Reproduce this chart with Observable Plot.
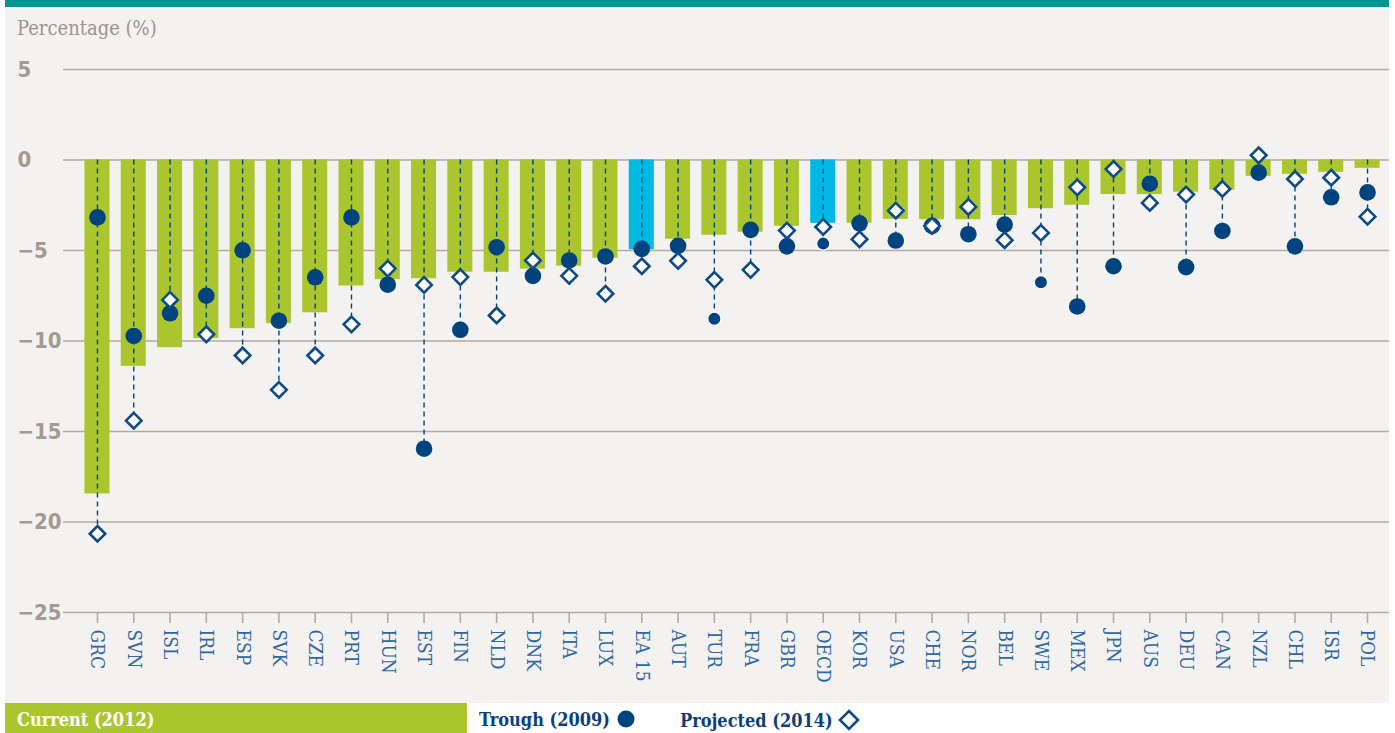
<!DOCTYPE html>
<html>
<head>
<meta charset="utf-8">
<script src="https://cdn.jsdelivr.net/npm/d3@7"></script>
<script src="https://cdn.jsdelivr.net/npm/@observablehq/plot@0.6"></script>
<style>
  body { margin: 0; background: #ffffff; width: 1395px; height: 733px; overflow: hidden; position: relative; }
  #teal { position: absolute; left: 5px; top: 0; width: 1384px; height: 7px; background: #00968f; }
  #panel { position: absolute; left: 5px; top: 8px; width: 1384px; height: 695px; background: #f4f2f0; }
  #ylabel { position: absolute; left: 17px; top: 16px; font-family: "DejaVu Serif Condensed", "DejaVu Serif", serif; font-size: 20px; color: #9d938a; }
  #chart { position: absolute; left: 0; top: 40px; }
  #legend-current { position: absolute; left: 5px; top: 703px; width: 462px; height: 30px; background: #abc52f; }
  .leg { position: absolute; top: 709px; font-family: "DejaVu Serif Condensed", "DejaVu Serif", serif; font-weight: bold; font-size: 18px; white-space: nowrap; }
</style>
</head>
<body>
<div id="teal"></div>
<div id="panel"></div>
<div id="ylabel">Percentage (%)</div>
<div id="chart"></div>
<div id="legend-current"></div>
<div class="leg" style="left:17px; color:#ffffff;">Current (2012)</div>
<div class="leg" style="left:479px; color:#0d3f7a;">Trough (2009) <svg width="20" height="20" style="vertical-align:-3px"><circle cx="10" cy="10" r="8.5" fill="#00437e"/></svg></div>
<div class="leg" style="left:680px; color:#0d3f7a;">Projected (2014) <svg width="22" height="22" style="vertical-align:-4px"><path d="M11,2 L20,11 L11,20 L2,11 Z" fill="#fff" stroke="#0d4a86" stroke-width="2.6"/></svg></div>
<script>
const countries = ["GRC","SVN","ISL","IRL","ESP","SVK","CZE","PRT","HUN","EST","FIN","NLD","DNK","ITA","LUX","EA 15","AUT","TUR","FRA","GBR","OECD","KOR","USA","CHE","NOR","BEL","SWE","MEX","JPN","AUS","DEU","CAN","NZL","CHL","ISR","POL"];
const current2012 = [-18.45,-11.4,-10.37,-9.87,-9.32,-9.04,-8.44,-6.96,-6.61,-6.56,-6.2,-6.2,-6.03,-5.87,-5.43,-4.96,-4.38,-4.16,-3.99,-3.66,-3.5,-3.5,-3.28,-3.3,-3.3,-3.07,-2.69,-2.5,-1.91,-1.91,-1.78,-1.67,-0.9,-0.79,-0.68,-0.46];
const trough2009 = [-3.17,-9.72,-8.47,-7.5,-4.99,-8.88,-6.48,-3.17,-6.89,-15.95,-9.38,-4.82,-6.4,-5.55,-5.33,-4.91,-4.74,-8.77,-3.86,-4.77,-4.62,-3.5,-4.45,-3.64,-4.1,-3.57,-6.75,-8.09,-5.87,-1.31,-5.92,-3.92,-0.7,-4.77,-2.06,-1.79];
const projected2014 = [-20.65,-14.4,-7.73,-9.63,-10.8,-12.7,-10.8,-9.08,-6.0,-6.9,-6.47,-8.59,-5.55,-6.4,-7.39,-5.87,-5.57,-6.62,-6.07,-3.9,-3.7,-4.38,-2.8,-3.64,-2.59,-4.43,-4.03,-1.51,-0.5,-2.37,-1.91,-1.6,0.26,-1.05,-0.98,-3.13];
const aggregates = ["EA 15","OECD"];
const yTicks = [5,0,-5,-10,-15,-20,-25];

const rows = countries.map((c, i) => ({
  country: c,
  current: current2012[i],
  trough: trough2009[i],
  projected: projected2014[i],
  low: Math.min(trough2009[i], projected2014[i], 0)
}));

const smallDots = new Set(["TUR","OECD","SWE"]);
const navy = "#00437e";
const fmt = d => d < 0 ? "\u2212" + Math.abs(d) : String(d);

const chart = Plot.plot({
  width: 1395,
  height: 660,
  marginTop: 29,
  marginBottom: 88,
  marginLeft: 63,
  marginRight: 6,
  style: { background: "transparent", overflow: "visible" },
  x: { domain: countries, range: [73.2, 1390.8], padding: 0.31, round: false, label: null },
  y: { domain: [-25, 5], label: null, axis: null },
  marks: [
    Plot.ruleY(yTicks, { stroke: "#b3aaa1", strokeWidth: 1.6 }),
    Plot.text(yTicks, { y: d => d, text: fmt, frameAnchor: "left", dx: -46, textAnchor: "start",
      fontSize: 22, fontWeight: "bold", fill: "#a39a91", fontFamily: "DejaVu Sans Condensed, DejaVu Sans, sans-serif" }),
    Plot.barY(rows, { x: "country", y: "current",
      fill: d => aggregates.includes(d.country) ? "#00b9e3" : "#abc52f" }),
    Plot.ruleX(rows, { x: "country", y1: 0, y2: "low", stroke: navy, strokeWidth: 1.4, strokeDasharray: "5,4" }),
    Plot.dot(rows.filter(d => !smallDots.has(d.country)), { x: "country", y: "trough", r: 8.3, fill: navy }),
    Plot.dot(rows.filter(d => smallDots.has(d.country)), { x: "country", y: "trough", r: 6.6, fill: navy, stroke: "#ffffff", strokeWidth: 1.2 }),
    Plot.dot(rows, { x: "country", y: "projected", symbol: "diamond2", r: 7, fill: "#ffffff", stroke: "#0d4a86", strokeWidth: 2.6 }),
    Plot.axisX({ tickRotate: 90, tickSize: 11, tickPadding: 6, stroke: "#b3aaa1", strokeWidth: 1.6,
      fill: "#2f67a3", fontSize: 19, fontFamily: "DejaVu Serif Condensed, DejaVu Serif, serif", label: null })
  ]
});
document.getElementById("chart").appendChild(chart);
</script>
</body>
</html>
